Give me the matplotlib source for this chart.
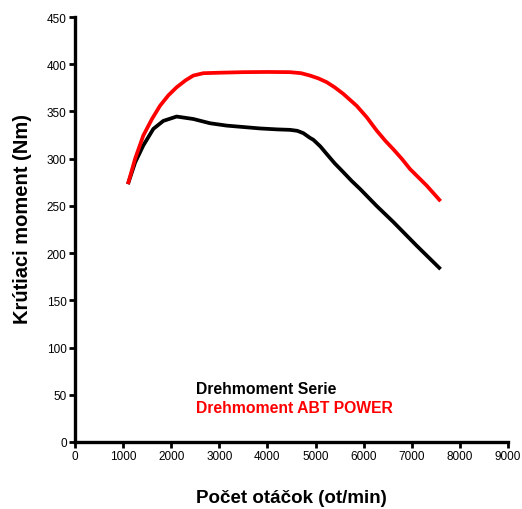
import matplotlib
matplotlib.use("Agg")
import matplotlib.pyplot as plt
import numpy as np

# otacky (rpm) a krutiaci moment (Nm), odcitane z grafu
rpm_serie = [1100, 1250, 1420, 1628, 1836, 2113, 2460, 2807, 3153, 3500, 3846, 4200, 4470, 4620, 4747, 4886, 4955, 5100, 5232, 5400, 5578, 5750, 5925, 6270, 6617, 7100, 7600]
nm_serie = [273, 296, 314, 331.5, 340, 344.6, 342, 337.5, 335, 333.5, 332, 331, 330.5, 329.5, 327, 322, 320, 313, 305, 295, 285.7, 276.5, 268, 250, 233, 208, 183]

rpm_abt = [1100, 1250, 1420, 1600, 1767, 1940, 2113, 2300, 2460, 2668, 3000, 3500, 4000, 4470, 4700, 4886, 5060, 5232, 5400, 5578, 5855, 6063, 6271, 6450, 6617, 6800, 6965, 7311, 7600]
nm_abt = [273, 300, 324.5, 342, 356, 367, 375.6, 383, 388, 390.5, 391, 391.6, 391.8, 391.6, 390.5, 388, 385, 381, 375.5, 368.6, 356, 344, 329.8, 319, 310, 299.5, 289, 271.5, 255]

fig = plt.figure(figsize=(5.22, 5.10), dpi=100)
ax = fig.add_axes([0.1437, 0.1314, 0.8293, 0.8333])

ax.plot(rpm_serie, nm_serie, color="black", lw=2.7, solid_capstyle="butt", solid_joinstyle="round")
ax.plot(rpm_abt, nm_abt, color="#ff0000", lw=2.7, solid_capstyle="butt", solid_joinstyle="round")

ax.set_xlim(0, 9000)
ax.set_ylim(0, 450)
ax.set_xticks(np.arange(0, 9001, 1000))
ax.set_yticks(np.arange(0, 451, 50))

for s in ["top", "right"]:
    ax.spines[s].set_visible(False)
for s in ["left", "bottom"]:
    ax.spines[s].set_linewidth(2.4)

ax.tick_params(direction="out", length=4, width=2, labelsize=8.5, pad=2)
for lbl in ax.get_xticklabels() + ax.get_yticklabels():
    lbl.set_family("Liberation Sans")

ax.set_ylabel("Krútiaci moment (Nm)", fontsize=14.5, fontweight="bold", family="Liberation Sans")
ax.yaxis.set_label_coords(-0.099, 0.526)
ax.set_xlabel("Počet otáčok (ot/min)", fontsize=13.5, fontweight="bold", family="Liberation Sans")
ax.xaxis.set_label_coords(0.5, -0.11)

ax.text(2520, 52, "Drehmoment Serie", color="black", fontsize=11.3, fontweight="bold", family="Liberation Sans")
ax.text(2520, 32, "Drehmoment ABT POWER", color="#ff0000", fontsize=11.3, fontweight="bold", family="Liberation Sans")

fig.savefig("out.png", dpi=100)
